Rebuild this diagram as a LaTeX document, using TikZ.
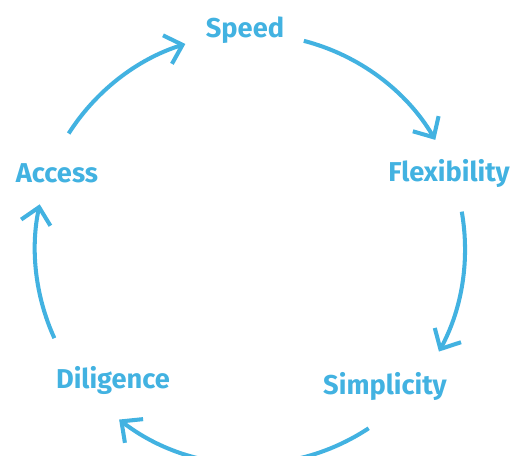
\documentclass[tikz,border=0pt]{standalone}
\usepackage{fontspec}
\setmainfont{Fira Sans}
\usetikzlibrary{arrows.meta}

\definecolor{cycleblue}{RGB}{66,178,225}

\tikzstyle{label} = [text=cycleblue, font=\fontsize{15.5}{18}\selectfont\bfseries]
\tikzstyle{arrow} = [cycleblue, line width=2.3pt, -{Straight Barb[length=9pt, width=17pt, line width=2.3pt]}]

\begin{document}
\begin{tikzpicture}
    \useasboundingbox (0,0) rectangle (10.2,9.1);
    \coordinate (O) at (5.0,4.12);
    % Labels
    \node (Speed) [label] at (4.9,8.5) {Speed};
    \node (Flex) [label] at (8.98,5.64) {Flexibility};
    \node (Simp) [label] at (7.7,1.38) {Simplicity};
    \node (Dili) [label] at (2.26,1.5) {Diligence};
    \node (Access) [label] at (1.14,5.64) {Access};
    % Cycle arrows
    \draw [arrow] ([shift={(147.5:4.3)}]O) arc[start angle=147.5, end angle=107.5, radius=4.3];
    \draw [arrow] ([shift={(75.5:4.3)}]O) arc[start angle=75.5, end angle=30.5, radius=4.3];
    \draw [arrow] ([shift={(10:4.3)}]O) arc[start angle=10, end angle=-28.5, radius=4.3];
    \draw [arrow] ([shift={(-56.5:4.3)}]O) arc[start angle=-56.5, end angle=-127.5, radius=4.3];
    \draw [arrow] ([shift={(204.5:4.3)}]O) arc[start angle=204.5, end angle=168, radius=4.3];
\end{tikzpicture}
\end{document}
